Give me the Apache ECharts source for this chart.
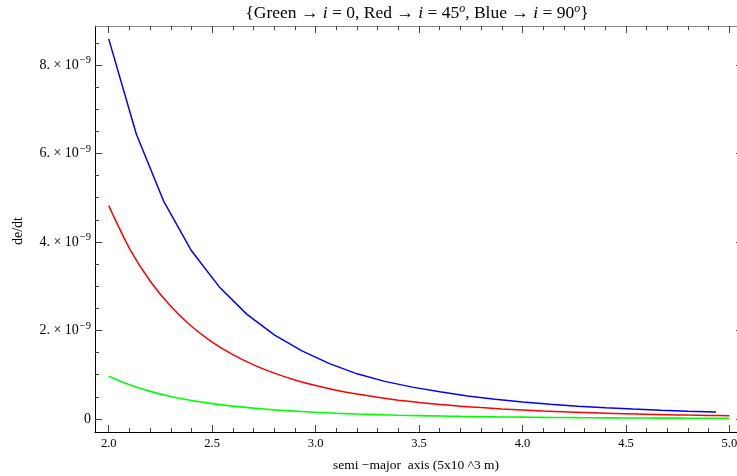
<!DOCTYPE html>
<html>
<head>
<meta charset="utf-8">
<script src="https://cdn.jsdelivr.net/npm/echarts@6/dist/echarts.min.js"></script>
<style>html,body{margin:0;padding:0;background:#fff;}#c{width:737px;height:476px;}</style>
</head>
<body>
<div id="c"></div>
<script>
// values of de/dt are given in units of 1e-9
const blueA = [2.0000, 2.1334, 2.2668, 2.4002, 2.5336, 2.6670, 2.8004, 2.9338, 3.0672, 3.2006, 3.3340, 3.4674, 3.6008, 3.7342, 3.8676, 4.0010, 4.1344, 4.2678, 4.4012, 4.5346, 4.6680, 4.8014, 4.9348];
const blueDeDt = [8.59, 6.44, 4.91, 3.80, 2.99, 2.37, 1.90, 1.54, 1.25, 1.02, 0.85, 0.72, 0.615, 0.52, 0.445, 0.385, 0.335, 0.29, 0.255, 0.225, 0.198, 0.176, 0.157];
const redGreenA = [2.0, 2.1, 2.2, 2.3, 2.4, 2.5, 2.6, 2.7, 2.8, 2.9, 3.0, 3.1, 3.2, 3.3, 3.4, 3.5, 3.6, 3.7, 3.8, 3.9, 4.0, 4.1, 4.2, 4.3, 4.4, 4.5, 4.6, 4.7, 4.8, 4.9, 5.0];
const redDeDt = [4.82, 3.857, 3.118, 2.545, 2.095, 1.739, 1.453, 1.223, 1.036, 0.883, 0.756, 0.651, 0.563, 0.489, 0.426, 0.374, 0.328, 0.290, 0.257, 0.228, 0.203, 0.181, 0.162, 0.146, 0.131, 0.118, 0.107, 0.0971, 0.0882, 0.0803, 0.0732];
const greenDeDt = [0.964, 0.771, 0.624, 0.509, 0.419, 0.348, 0.291, 0.245, 0.207, 0.177, 0.151, 0.130, 0.113, 0.098, 0.085, 0.075, 0.066, 0.058, 0.051, 0.046, 0.041, 0.036, 0.032, 0.029, 0.026, 0.024, 0.021, 0.019, 0.018, 0.016, 0.0146];

const xMajorTicks = [2.0, 2.5, 3.0, 3.5, 4.0, 4.5, 5.0];
const xMinorTicks = [2.1, 2.2, 2.3, 2.4, 2.6, 2.7, 2.8, 2.9, 3.1, 3.2, 3.3, 3.4, 3.6, 3.7, 3.8, 3.9, 4.1, 4.2, 4.3, 4.4, 4.6, 4.7, 4.8, 4.9];
const yMajorTicks = [0, 2, 4, 6, 8];
const yMinorTicks = [0.5, 1, 1.5, 2.5, 3, 3.5, 4.5, 5, 5.5, 6.5, 7, 7.5, 8.5];
const yTickLabels = {0: '0', 2: '2. × 10{sup|−9}', 4: '4. × 10{sup|−9}', 6: '6. × 10{sup|−9}', 8: '8. × 10{sup|−9}'};

const FONT = 'Liberation Serif';
const X_MIN = 1.9338, X_MAX = 5.0657, Y_MIN = -0.294, Y_MAX = 8.88;

function zip(xs, ys) { return xs.map((x, i) => [x, ys[i]]); }

function xAxis(pos, major, lineColor, showLine, showLabel) {
  return {
    type: 'value', position: pos, min: X_MIN, max: X_MAX,
    axisLine: {show: showLine, onZero: false, lineStyle: {color: lineColor, width: 1}},
    axisTick: {show: true, inside: true, length: major ? 7 : 4,
      customValues: major ? xMajorTicks : xMinorTicks,
      lineStyle: {color: '#444', width: 1}},
    axisLabel: {show: showLabel, customValues: xMajorTicks, margin: 5,
      formatter: v => v.toFixed(1), fontFamily: FONT, fontSize: 12.5, color: '#000'},
    splitLine: {show: false}
  };
}
function yAxis(pos, major, lineColor, showLine, showLabel) {
  return {
    type: 'value', position: pos, min: Y_MIN, max: Y_MAX,
    axisLine: {show: showLine, onZero: false, lineStyle: {color: lineColor, width: 1}},
    axisTick: {show: true, inside: true, length: major ? 7 : 4,
      customValues: major ? yMajorTicks : yMinorTicks,
      lineStyle: {color: '#444', width: 1}},
    axisLabel: {show: showLabel, customValues: yMajorTicks, margin: 4,
      formatter: v => yTickLabels[Math.round(v)] || '',
      fontFamily: FONT, fontSize: 14, color: '#000',
      rich: {sup: {fontFamily: FONT, fontSize: 10.5, color: '#000', verticalAlign: 'top', padding: [0, 0, 9, 1]}}},
    splitLine: {show: false}
  };
}

const chart = echarts.init(document.getElementById('c'), null, {renderer: 'canvas'});
chart.setOption({
  animation: false,
  backgroundColor: '#fff',
  grid: {left: 95, width: 648, top: 26, bottom: 44, containLabel: false, outerBoundsMode: 'none'},
  xAxis: [
    xAxis('bottom', true, '#000', true, true),
    xAxis('bottom', false, '#000', false, false),
    xAxis('top', true, '#888', true, false),
    xAxis('top', false, '#888', false, false)
  ],
  yAxis: [
    yAxis('left', true, '#000', true, true),
    yAxis('left', false, '#000', false, false),
    yAxis('right', true, '#888', true, false),
    yAxis('right', false, '#888', false, false)
  ],
  graphic: [
    {type: 'text', x: 417, y: 13, style: {
      text: '{Green → {it|i} = 0, Red → {it|i} = 45{sup|o}, Blue → {it|i} = 90{sup|o}}',
      fontFamily: FONT, fontSize: 17.5, fill: '#000', align: 'center', verticalAlign: 'middle',
      rich: {
        it: {fontFamily: FONT, fontSize: 17.5, fontStyle: 'italic', fill: '#000'},
        sup: {fontFamily: FONT, fontSize: 12, fontStyle: 'italic', fill: '#000', verticalAlign: 'top', padding: [0, 0, 9, 0]}
      }}},
    {type: 'text', x: 416, y: 465, style: {
      text: 'semi −major  axis (5x10 ^3 m)', fontFamily: FONT, fontSize: 13.5, fill: '#000',
      align: 'center', verticalAlign: 'middle'}},
    {type: 'text', x: 18, y: 231, rotation: Math.PI / 2, style: {
      text: 'de/dt', fontFamily: FONT, fontSize: 14, fill: '#000',
      align: 'center', verticalAlign: 'middle'}}
  ],
  series: [
    {type: 'line', name: 'green', data: zip(redGreenA, greenDeDt), showSymbol: false,
      smooth: 0.25,
      lineStyle: {color: '#00ff00', width: 1.6}, itemStyle: {color: '#00ff00'}},
    {type: 'line', name: 'red', data: zip(redGreenA, redDeDt), showSymbol: false,
      smooth: 0.25,
      lineStyle: {color: '#ff0000', width: 1.5}, itemStyle: {color: '#ff0000'}},
    {type: 'line', name: 'blue', data: zip(blueA, blueDeDt), showSymbol: false,
      lineStyle: {color: '#0000ff', width: 1.5}, itemStyle: {color: '#0000ff'}}
  ]
});
</script>
</body>
</html>
